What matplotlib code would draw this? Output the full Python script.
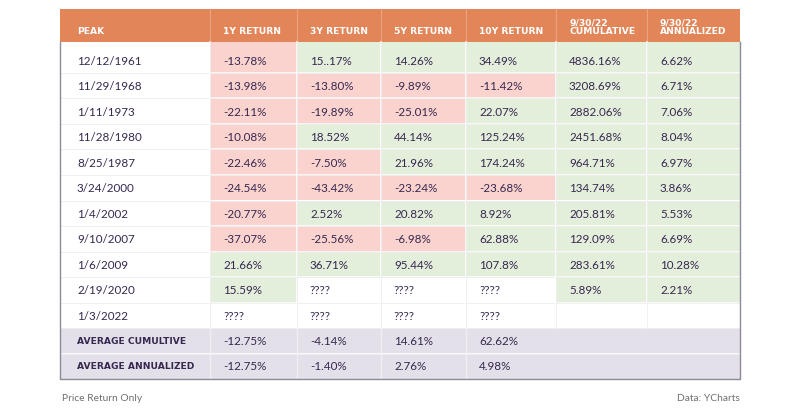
import matplotlib
matplotlib.use("Agg")
import matplotlib.pyplot as plt
from matplotlib.patches import Rectangle

# ---------------- data ----------------
headers = ["PEAK", "1Y RETURN", "3Y RETURN", "5Y RETURN", "10Y RETURN",
           "9/30/22\nCUMULATIVE", "9/30/22\nANNUALIZED"]
peaks = ["12/12/1961", "11/29/1968", "1/11/1973", "11/28/1980", "8/25/1987",
         "3/24/2000", "1/4/2002", "9/10/2007", "1/6/2009", "2/19/2020", "1/3/2022"]
ret_1y = ["-13.78%", "-13.98%", "-22.11%", "-10.08%", "-22.46%", "-24.54%",
          "-20.77%", "-37.07%", "21.66%", "15.59%", "????"]
ret_3y = ["15..17%", "-13.80%", "-19.89%", "18.52%", "-7.50%", "-43.42%",
          "2.52%", "-25.56%", "36.71%", "????", "????"]
ret_5y = ["14.26%", "-9.89%", "-25.01%", "44.14%", "21.96%", "-23.24%",
          "20.82%", "-6.98%", "95.44%", "????", "????"]
ret_10y = ["34.49%", "-11.42%", "22.07%", "125.24%", "174.24%", "-23.68%",
           "8.92%", "62.88%", "107.8%", "????", "????"]
cumulative = ["4836.16%", "3208.69%", "2882.06%", "2451.68%", "964.71%", "134.74%",
              "205.81%", "129.09%", "283.61%", "5.89%", ""]
annualized = ["6.62%", "6.71%", "7.06%", "8.04%", "6.97%", "3.86%",
              "5.53%", "6.69%", "10.28%", "2.21%", ""]
avg_labels = ["AVERAGE CUMULTIVE", "AVERAGE ANNUALIZED"]
avg_cumulative = ["-12.75%", "-4.14%", "14.61%", "62.62%"]
avg_annualized = ["-12.75%", "-1.40%", "2.76%", "4.98%"]
footnote_left = "Price Return Only"
footnote_right = "Data: YCharts"

# ---------------- layout / style ----------------
W, H = 800, 411
col_edges = [60, 210, 297, 381, 466, 556, 647, 740]
header_top, header_bot = 9.5, 42
first_row_top = 42
row_h = 25.5
first_row_extra = 5.5
pad_x = 13

ORANGE = "#E2865A"
RED = "#FAD3CE"
GREEN = "#E3EEDB"
LAV = "#E3E0E9"
TEXT = "#36284F"
BORDER = "#8E8A9C"
GRID = "#E6E6EA"

fig = plt.figure(figsize=(W / 100, H / 100), dpi=100)
ax = fig.add_axes([0, 0, 1, 1])
ax.set_xlim(0, W)
ax.set_ylim(H, 0)
ax.axis("off")

hdr_font = dict(family=["DejaVu Sans"], fontweight="bold", fontsize=6.6, color="white")
cell_font = dict(family=["Lato", "DejaVu Sans"], fontsize=8.4, color=TEXT)

# header
ax.add_patch(Rectangle((col_edges[0], header_top), col_edges[-1] - col_edges[0],
                       header_bot - header_top, facecolor=ORANGE, edgecolor="none"))
for i, h in enumerate(headers):
    x = col_edges[i] + (17 if i == 0 else pad_x)
    ax.text(x, 34.5, h, ha="left", va="baseline", linespacing=0.95, **hdr_font)
    if i > 0:
        ax.plot([col_edges[i]] * 2, [header_top, header_bot], color="#EBA27F", lw=0.8)


def cell_color(v):
    if v == "" or v.startswith("?"):
        return "white"
    return RED if v.startswith("-") else GREEN


columns = [ret_1y, ret_3y, ret_5y, ret_10y, cumulative, annualized]
n = len(peaks)
row_tops = []
for r in range(n):
    if r == 0:
        top = first_row_top
        bot = first_row_top + first_row_extra + row_h
    else:
        top = first_row_top + first_row_extra + r * row_h
        bot = top + row_h
    row_tops.append((top, bot))
    yc = bot - row_h / 2 + 1
    ax.add_patch(Rectangle((col_edges[0], top), col_edges[1] - col_edges[0], bot - top,
                           facecolor="white", edgecolor="none"))
    ax.text(col_edges[0] + 17, yc, peaks[r], ha="left", va="center", **cell_font)
    for c, col in enumerate(columns):
        v = col[r]
        x0, x1 = col_edges[c + 1], col_edges[c + 2]
        ax.add_patch(Rectangle((x0, top), x1 - x0, bot - top,
                               facecolor=cell_color(v), edgecolor="none"))
        ax.text(x0 + pad_x, yc, v, ha="left", va="center", **cell_font)

# average rows
avg_top = row_tops[-1][1]
for k, (lab, vals) in enumerate(zip(avg_labels, [avg_cumulative, avg_annualized])):
    top = avg_top + k * row_h
    ax.add_patch(Rectangle((col_edges[0], top), col_edges[-1] - col_edges[0], row_h,
                           facecolor=LAV, edgecolor="none"))
    yc = top + row_h / 2 + 0.5
    ax.text(col_edges[0] + 17, yc, lab, ha="left", va="center",
            family=["DejaVu Sans"], fontweight="bold", fontsize=6.6, color=TEXT)
    for c, v in enumerate(vals):
        ax.text(col_edges[c + 1] + pad_x, yc, v, ha="left", va="center", **cell_font)
table_bot = avg_top + 2 * row_h

# grid lines
ys = [b for _, b in row_tops] + [avg_top + row_h]
for y in ys:
    ax.plot([col_edges[0], col_edges[-1]], [y, y], color="white", lw=1.2, alpha=0.9)
    ax.plot([col_edges[0], col_edges[-1]], [y, y], color=GRID, lw=0.6, alpha=0.7)
for x in col_edges[1:-1]:
    ax.plot([x, x], [header_bot, avg_top], color="white", lw=1.2, alpha=0.9)
    ax.plot([x, x], [header_bot, avg_top], color=GRID, lw=0.6, alpha=0.7)
for x in col_edges[1:5]:
    ax.plot([x, x], [avg_top, table_bot], color="#F1EFF4", lw=1.0)

# outer border
ax.plot([col_edges[0], col_edges[0], col_edges[-1], col_edges[-1]],
        [header_bot, table_bot, table_bot, header_bot], color=BORDER, lw=1.0)

# footnotes
ax.text(62, 398, footnote_left, ha="left", va="center",
        family=["Lato", "DejaVu Sans"], fontsize=7.4, color="#707070")
ax.text(740, 398, footnote_right, ha="right", va="center",
        family=["Lato", "DejaVu Sans"], fontsize=7.4, color="#707070")

fig.savefig("out.png", dpi=100, facecolor="white")
